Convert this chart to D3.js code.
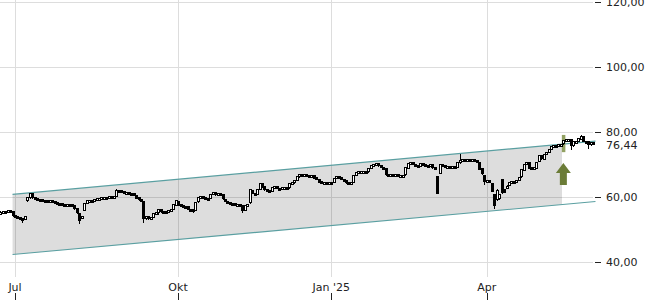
<!DOCTYPE html>
<html>
<head>
<meta charset="utf-8">
<script src="https://cdn.jsdelivr.net/npm/d3@7"></script>
<style>
  html, body { margin: 0; padding: 0; background: #fff; }
  svg { display: block; font-family: "DejaVu Sans", sans-serif; }
</style>
</head>
<body>
<svg id="chart" width="650" height="300"></svg>
<script>
// Kursdaten (Tageskerzen, Index 0 = erster Handelstag im Bild)
const opens = [
  55.0, 55.3, 55.5, 55.3, 55.8, 55.4, 54.2, 53.9, 53.6, 53.2,
  53.0, 58.8, 59.7, 60.8, 59.6, 59.4, 59.2, 59.1, 58.9, 58.8,
  58.3, 58.8, 58.5, 58.3, 58.0, 57.9, 57.6, 57.3, 57.5, 57.4,
  57.1, 56.2, 54.8, 53.4, 55.8, 58.0, 58.8, 58.9, 58.7, 59.0,
  59.3, 59.5, 59.6, 59.8, 59.7, 59.9, 59.8, 60.2, 62.0, 61.8,
  61.4, 61.2, 61.3, 61.0, 60.9, 60.4, 59.6, 59.0, 58.5, 53.2,
  53.8, 53.3, 53.7, 54.9, 55.0, 55.9, 55.4, 55.3, 55.1, 55.8,
  56.0, 57.3, 58.6, 57.5, 57.3, 57.0, 56.8, 56.0, 55.9, 55.8,
  58.4, 59.6, 60.0, 59.8, 59.5, 59.4, 60.7, 61.3, 60.6, 61.0,
  60.5, 59.2, 58.6, 58.3, 57.8, 57.7, 57.3, 57.6, 57.2, 55.8,
  57.2, 58.3, 62.0, 61.0, 60.8, 62.3, 64.0, 63.0, 62.2, 61.9,
  61.8, 62.9, 63.1, 62.6, 62.5, 62.7, 62.8, 62.7, 64.0, 64.2,
  64.9, 66.2, 66.7, 66.4, 66.8, 66.6, 66.3, 66.5, 65.7, 65.3,
  64.5, 64.2, 64.4, 64.0, 64.2, 64.3, 65.6, 66.3, 66.0, 65.3,
  64.9, 64.2, 64.1, 64.5, 66.5, 67.3, 67.6, 67.7, 67.8, 67.6,
  68.6, 69.6, 69.9, 70.1, 69.4, 69.0, 68.6, 66.8, 66.5, 66.9,
  66.5, 66.7, 66.3, 66.5, 66.6, 68.8, 70.2, 70.4, 70.0, 69.6,
  69.4, 70.3, 70.0, 69.6, 69.4, 69.7, 68.8, 66.2, 67.3, 70.0,
  69.4, 69.0, 69.2, 68.9, 69.1, 68.9, 70.5, 71.0, 71.3, 71.2,
  71.5, 71.0, 71.4, 71.2, 70.6, 68.5, 66.5, 64.6, 65.0, 64.0,
  60.5, 59.2, 59.4, 65.2, 62.2, 63.0, 63.4, 64.3, 64.5, 64.4,
  65.0, 66.0, 68.2, 70.0, 70.6, 68.8, 68.6, 68.9, 70.8, 72.5,
  71.5, 73.0, 73.5, 74.5, 75.3, 75.8, 75.6, 75.9, 76.1, 77.1,
  77.4, 77.4, 75.7, 76.8, 77.0, 77.8, 78.4, 77.0, 76.9, 75.9,
  76.6
];
const highs = [
  55.6, 55.8, 55.7, 56.1, 56.0, 55.6, 54.5, 54.2, 53.9, 53.4,
  54.2, 60.1, 61.3, 61.0, 59.9, 59.6, 59.5, 59.3, 59.2, 59.0,
  59.2, 58.9, 58.7, 58.5, 58.3, 58.0, 57.8, 57.7, 57.7, 57.6,
  57.2, 56.4, 55.0, 54.2, 58.2, 59.1, 59.2, 59.0, 59.2, 59.5,
  59.7, 59.8, 60.0, 60.0, 60.1, 60.0, 60.2, 62.5, 62.2, 61.9,
  61.6, 61.5, 61.4, 61.2, 61.0, 60.5, 59.8, 59.1, 58.7, 54.1,
  54.0, 53.8, 55.1, 55.4, 56.2, 56.0, 55.6, 55.4, 56.0, 56.1,
  57.7, 59.1, 58.7, 57.7, 57.4, 57.2, 56.9, 56.2, 56.0, 58.6,
  59.9, 60.3, 60.1, 59.9, 59.7, 61.0, 61.6, 61.4, 61.2, 61.1,
  60.6, 59.4, 58.8, 58.4, 58.0, 57.8, 57.8, 57.7, 57.3, 57.4,
  57.8, 62.6, 62.3, 61.2, 62.4, 64.3, 64.2, 63.1, 62.4, 62.0,
  63.1, 63.4, 63.2, 62.8, 62.9, 63.0, 62.9, 64.2, 64.4, 65.0,
  66.4, 66.9, 66.8, 67.0, 66.9, 66.7, 66.7, 66.6, 65.8, 65.4,
  64.6, 64.6, 64.5, 64.4, 64.3, 65.8, 66.5, 66.4, 66.1, 65.4,
  65.0, 64.3, 64.6, 66.7, 67.5, 67.8, 67.9, 68.0, 67.9, 68.8,
  69.8, 70.1, 70.4, 70.2, 69.6, 69.1, 68.7, 67.0, 67.1, 67.0,
  66.9, 66.8, 66.7, 66.8, 69.0, 70.4, 70.6, 70.5, 70.1, 69.7,
  70.5, 70.4, 70.1, 69.8, 69.9, 69.8, 69.0, 66.4, 70.2, 70.1,
  69.5, 69.4, 69.3, 69.3, 69.2, 70.7, 73.2, 71.5, 71.4, 71.7,
  71.6, 71.6, 71.5, 71.3, 70.7, 68.6, 66.7, 65.3, 65.1, 64.2,
  60.7, 62.4, 60.7, 65.5, 62.4, 63.6, 64.5, 64.7, 64.6, 65.1,
  66.1, 68.4, 70.2, 70.9, 70.7, 68.9, 69.0, 70.8, 72.7, 72.6,
  73.2, 73.6, 74.7, 75.5, 76.0, 75.9, 76.1, 76.2, 77.5, 77.6,
  77.8, 77.5, 77.0, 77.2, 78.0, 79.0, 78.5, 77.2, 77.0, 76.8,
  76.9
];
const lows = [
  54.8, 55.1, 55.0, 55.2, 55.3, 54.0, 53.7, 53.5, 52.9, 52.0,
  52.8, 58.6, 59.5, 59.4, 59.2, 59.0, 58.9, 58.7, 58.6, 58.4,
  58.2, 58.3, 58.1, 57.8, 57.7, 57.4, 57.1, 57.2, 57.2, 57.0,
  56.0, 54.8, 51.7, 53.2, 55.6, 57.9, 58.6, 58.5, 58.6, 58.9,
  59.1, 59.3, 59.4, 59.5, 59.6, 59.6, 59.7, 60.1, 61.6, 61.2,
  61.0, 61.0, 60.8, 60.7, 60.2, 59.4, 58.8, 58.5, 52.0, 53.0,
  53.0, 53.1, 53.5, 54.7, 54.6, 55.2, 55.1, 54.8, 55.0, 55.6,
  55.9, 57.2, 57.4, 57.1, 56.8, 56.6, 55.9, 55.3, 55.0, 55.7,
  58.3, 59.4, 59.6, 59.3, 59.1, 59.3, 60.5, 60.4, 60.5, 60.3,
  59.0, 58.4, 58.1, 57.6, 57.5, 57.2, 57.2, 57.0, 55.0, 55.6,
  57.0, 58.0, 60.8, 60.6, 60.7, 62.2, 62.8, 62.0, 61.7, 61.5,
  61.7, 62.8, 62.4, 62.3, 62.4, 62.5, 62.4, 62.6, 63.8, 64.1,
  64.8, 66.0, 66.2, 66.3, 66.4, 66.1, 66.2, 65.5, 65.1, 64.3,
  64.0, 64.1, 63.8, 63.9, 63.9, 64.2, 65.5, 65.8, 65.1, 64.7,
  64.0, 63.9, 64.0, 64.4, 66.4, 67.1, 67.4, 67.5, 67.4, 67.5,
  68.5, 69.4, 69.7, 69.2, 68.8, 68.4, 66.6, 66.2, 66.4, 66.3,
  66.4, 66.1, 66.2, 66.3, 66.5, 68.7, 70.0, 69.8, 69.4, 69.2,
  69.3, 69.8, 69.4, 69.2, 69.3, 68.6, 68.5, 60.9, 67.0, 69.2,
  68.8, 68.9, 68.7, 68.8, 68.6, 68.8, 70.3, 70.9, 71.0, 71.1,
  70.8, 70.9, 71.0, 70.6, 68.3, 66.8, 63.8, 64.4, 64.4, 61.4,
  56.2, 58.8, 59.1, 60.9, 61.1, 62.8, 63.3, 64.1, 64.2, 64.3,
  64.9, 65.9, 68.1, 69.8, 68.6, 68.4, 68.5, 68.8, 70.7, 71.3,
  71.4, 72.8, 73.4, 74.4, 75.2, 75.4, 75.5, 75.6, 76.0, 77.0,
  77.2, 74.5, 75.5, 76.6, 76.9, 77.7, 76.8, 76.7, 74.8, 75.7,
  76.2
];
const closes = [
  55.2, 55.5, 55.3, 55.8, 55.6, 54.2, 53.9, 53.7, 53.2, 52.9,
  53.9, 59.6, 61.0, 59.6, 59.4, 59.3, 59.1, 58.9, 58.8, 58.6,
  58.9, 58.5, 58.3, 58.0, 57.9, 57.6, 57.3, 57.5, 57.4, 57.2,
  56.3, 55.0, 52.6, 53.8, 57.9, 58.8, 58.9, 58.7, 59.0, 59.3,
  59.5, 59.6, 59.8, 59.7, 59.9, 59.8, 60.0, 62.0, 61.8, 61.4,
  61.2, 61.3, 61.0, 60.9, 60.4, 59.6, 59.0, 58.7, 53.2, 53.8,
  53.3, 53.6, 54.9, 55.2, 55.9, 55.4, 55.3, 55.0, 55.8, 55.9,
  57.5, 58.8, 57.5, 57.3, 57.0, 56.8, 56.0, 55.5, 55.6, 58.3,
  59.6, 60.0, 59.8, 59.5, 59.3, 60.7, 61.3, 60.6, 61.0, 60.5,
  59.2, 58.6, 58.3, 57.8, 57.7, 57.4, 57.6, 57.2, 55.8, 57.2,
  57.6, 62.2, 61.0, 60.8, 62.2, 64.0, 63.0, 62.2, 61.9, 61.7,
  62.9, 63.1, 62.6, 62.5, 62.7, 62.8, 62.6, 64.0, 64.2, 64.8,
  66.2, 66.7, 66.4, 66.8, 66.6, 66.3, 66.5, 65.7, 65.3, 64.5,
  64.2, 64.4, 64.0, 64.2, 64.1, 65.6, 66.3, 66.0, 65.3, 64.9,
  64.2, 64.1, 64.4, 66.5, 67.3, 67.6, 67.7, 67.8, 67.6, 68.6,
  69.6, 69.9, 70.1, 69.4, 69.0, 68.6, 66.8, 66.5, 66.9, 66.5,
  66.7, 66.3, 66.5, 66.6, 68.8, 70.2, 70.4, 70.0, 69.6, 69.4,
  70.3, 70.0, 69.6, 69.4, 69.7, 68.8, 68.7, 61.1, 70.0, 69.4,
  69.0, 69.2, 68.9, 69.1, 68.8, 70.5, 71.0, 71.3, 71.2, 71.5,
  71.0, 71.4, 71.2, 70.8, 68.5, 67.0, 64.8, 65.0, 64.6, 61.6,
  57.2, 62.0, 60.5, 61.1, 61.3, 63.2, 64.3, 64.5, 64.4, 64.9,
  65.9, 68.2, 70.0, 70.6, 68.8, 68.6, 68.8, 70.6, 72.5, 71.5,
  73.0, 73.4, 74.5, 75.3, 75.8, 75.6, 75.9, 76.0, 77.1, 77.4,
  77.6, 75.6, 76.8, 77.0, 77.8, 78.6, 77.0, 76.9, 75.9, 76.6,
  76.44
];

// Achsen
const yTicks = [40, 60, 80, 100, 120];
const monthTicks = [
  { index: 6, label: "Jul" },
  { index: 72, label: "Okt" },
  { index: 134, label: "Jan '25" },
  { index: 197, label: "Apr" }
];

// Trendkanal (Index, Wert)
const channelUpper = [[5, 60.8], [241, 77.2]];
const channelLower = [[5, 42.3], [241, 58.6]];

// Signal (Kaufpfeil)
const signalIndex = 228;
const signalBand = [73.8, 79.1];
const arrowRange = [63.7, 70.5];

const fmt = v => d3.format(".2f")(v).replace(".", ",");

const svg = d3.select("#chart");

const x = d3.scaleLinear().domain([0, 240]).range([0.2, 593]);
const y = d3.scaleLinear().domain([40, 120]).range([262, 2]);

// Gitter
svg.append("g")
  .selectAll("line")
  .data(yTicks)
  .join("line")
  .attr("x1", 0).attr("x2", 593)
  .attr("y1", d => Math.round(y(d)) + 0.5)
  .attr("y2", d => Math.round(y(d)) + 0.5)
  .attr("stroke", "#dddddd");

svg.append("g")
  .selectAll("line")
  .data(monthTicks)
  .join("line")
  .attr("x1", d => Math.round(x(d.index)) + 0.5)
  .attr("x2", d => Math.round(x(d.index)) + 0.5)
  .attr("y1", 0).attr("y2", 277)
  .attr("stroke", "#dddddd");

// Kanalfläche bis zum Signal
const upAt = i => channelUpper[0][1] + (channelUpper[1][1] - channelUpper[0][1]) * (i - channelUpper[0][0]) / (channelUpper[1][0] - channelUpper[0][0]);
const loAt = i => channelLower[0][1] + (channelLower[1][1] - channelLower[0][1]) * (i - channelLower[0][0]) / (channelLower[1][0] - channelLower[0][0]);
const fillEnd = signalIndex - 0.55;
svg.append("path")
  .attr("d", d3.line()([
    [x(channelUpper[0][0]), y(channelUpper[0][1])],
    [x(fillEnd), y(upAt(fillEnd))],
    [x(fillEnd), y(loAt(fillEnd))],
    [x(channelLower[0][0]), y(channelLower[0][1])]
  ]) + "Z")
  .attr("fill", "rgba(0,0,0,0.135)");

// Kanallinien
[channelUpper, channelLower].forEach(ch => {
  svg.append("line")
    .attr("x1", x(ch[0][0])).attr("y1", y(ch[0][1]))
    .attr("x2", x(ch[1][0])).attr("y2", y(ch[1][1]))
    .attr("stroke", "#5a9fa1")
    .attr("stroke-width", 1.1);
});

// Signalbalken
svg.append("rect")
  .attr("x", x(signalIndex) - 1.5)
  .attr("width", 3.5)
  .attr("y", y(signalBand[1]))
  .attr("height", y(signalBand[0]) - y(signalBand[1]))
  .attr("fill", "#7f9147")
  .attr("opacity", 0.85);

// Kerzen
const candles = closes.map((c, i) => ({ i, o: opens[i], h: highs[i], l: lows[i], c }));
const cg = svg.append("g").attr("shape-rendering", "crispEdges");

cg.selectAll("line")
  .data(candles)
  .join("line")
  .attr("x1", d => Math.round(x(d.i)) + 0.5)
  .attr("x2", d => Math.round(x(d.i)) + 0.5)
  .attr("y1", d => y(d.h))
  .attr("y2", d => y(d.l))
  .attr("stroke", "#000");

cg.selectAll("rect")
  .data(candles)
  .join("rect")
  .attr("x", d => Math.round(x(d.i)) - 0.5)
  .attr("width", 2)
  .attr("y", d => Math.round(y(Math.max(d.o, d.c))) - 0.5)
  .attr("height", d => Math.max(2, Math.round(Math.abs(y(d.o) - y(d.c)))))
  .attr("fill", d => d.c >= d.o ? "#fff" : "#000")
  .attr("stroke", "#000")
  .attr("stroke-width", 1);

// Pfeil
const ax = x(signalIndex);
const aTop = y(arrowRange[1]);
const aBot = y(arrowRange[0]);
const headH = 10;
svg.append("path")
  .attr("d", d3.line()([
    [ax, aTop],
    [ax + 7.5, aTop + headH],
    [ax + 3.5, aTop + headH],
    [ax + 3.5, aBot],
    [ax - 3.5, aBot],
    [ax - 3.5, aTop + headH],
    [ax - 7.5, aTop + headH]
  ]) + "Z")
  .attr("fill", "#6b7c37");

// Y-Achse rechts
const yAxis = svg.append("g");
yAxis.selectAll("line")
  .data(yTicks)
  .join("line")
  .attr("x1", 595).attr("x2", 601)
  .attr("y1", d => Math.round(y(d)) + 0.5)
  .attr("y2", d => Math.round(y(d)) + 0.5)
  .attr("stroke", "#222");
yAxis.selectAll("text")
  .data(yTicks)
  .join("text")
  .attr("x", 606)
  .attr("y", d => y(d))
  .attr("dy", "0.36em")
  .attr("font-size", 11)
  .attr("fill", "#222")
  .text(d => fmt(d));

// letzter Kurs
const last = closes[closes.length - 1];
svg.append("text")
  .attr("x", 606)
  .attr("y", Math.max(y(last), y(80) + 13))
  .attr("dy", "0.36em")
  .attr("font-size", 11)
  .attr("fill", "#222")
  .text(fmt(last));

// X-Achse
const xAxis = svg.append("g");
xAxis.selectAll("text")
  .data(monthTicks)
  .join("text")
  .attr("x", d => x(d.index))
  .attr("y", 291)
  .attr("text-anchor", "middle")
  .attr("font-size", 11)
  .attr("fill", "#222")
  .text(d => d.label);
xAxis.selectAll("line")
  .data(monthTicks)
  .join("line")
  .attr("x1", d => Math.round(x(d.index)) + 0.5)
  .attr("x2", d => Math.round(x(d.index)) + 0.5)
  .attr("y1", 293).attr("y2", 300)
  .attr("stroke", "#222");
</script>
</body>
</html>
